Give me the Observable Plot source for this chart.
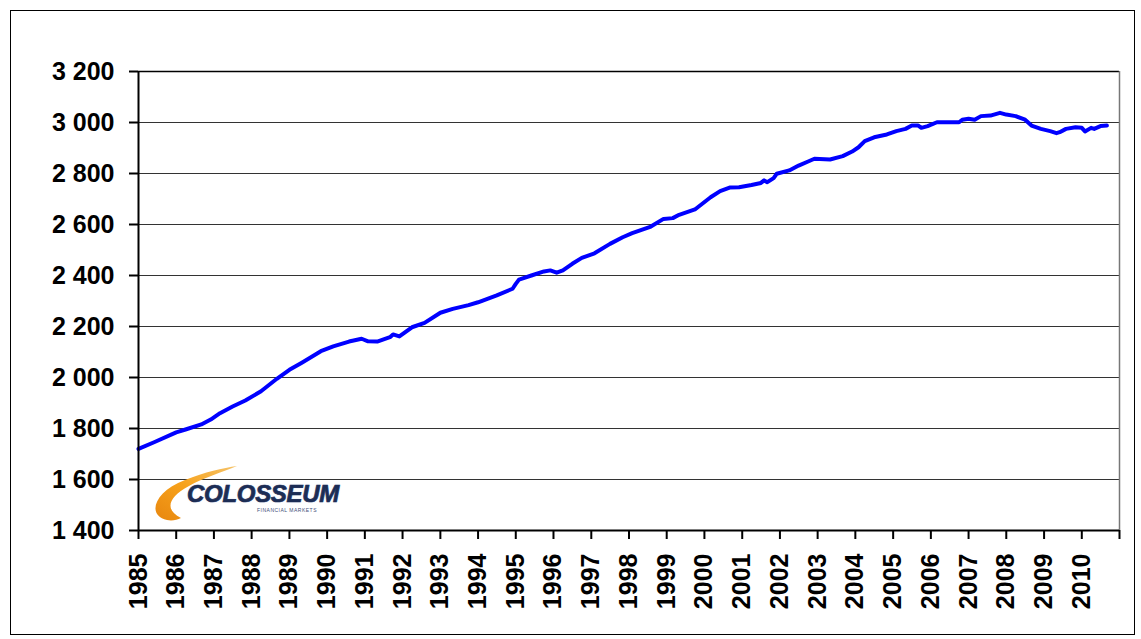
<!DOCTYPE html>
<html>
<head>
<meta charset="utf-8">
<script src="https://cdn.jsdelivr.net/npm/d3@7"></script>
<script src="https://cdn.jsdelivr.net/npm/@observablehq/plot@0.6"></script>
<style>
  html, body { margin: 0; padding: 0; background: #fff; }
  #wrap { position: relative; width: 1141px; height: 639px; overflow: hidden; }
  #border { position: absolute; left: 10px; top: 10px; width: 1125px; height: 625px; border: 1px solid #000; box-sizing: border-box; pointer-events: none; }
  #logo { position: absolute; left: 145px; top: 458px; width: 210px; height: 70px; pointer-events: none; }
  #logo .name { position: absolute; left: 42px; top: 22px; font-family: "Liberation Sans", Arial, sans-serif; font-weight: bold; font-style: italic; font-size: 24px; color: #1c2d55; letter-spacing: -0.3px; -webkit-text-stroke: 0.7px #1c2d55; text-shadow: 0 0 2px #c9d2e6; }
  #logo .sub { position: absolute; left: 112px; top: 49px; font-family: "Liberation Sans", Arial, sans-serif; font-size: 5px; color: #44507a; letter-spacing: 0.5px; }
  #chart svg { display: block; }
</style>
</head>
<body>
<div id="wrap">
  <div id="chart"></div>
  <div id="logo">
    <svg width="210" height="70" style="position:absolute;left:0;top:0">
      <defs>
        <linearGradient id="sw" x1="0" y1="1" x2="1" y2="0">
          <stop offset="0" stop-color="#e8870f"/>
          <stop offset="0.5" stop-color="#f7a21b"/>
          <stop offset="1" stop-color="#f5c36a"/>
        </linearGradient>
      </defs>
      <path d="M22,62 C2,58 8,34 40,22 C60,14 78,10 92,8 C78,14 58,20 44,28 C22,40 20,52 36,60 C32,62 27,63 22,62 Z" fill="url(#sw)"/>
    </svg>
    <div class="name">COLOSSEUM</div>
    <div class="sub">FINANCIAL MARKETS</div>
  </div>
  <div id="border"></div>
</div>
<script>
const dates = [
  "1985-01","1985-06","1986-01","1986-04","1986-09","1986-12","1987-03","1987-07","1987-11",
  "1988-04","1988-09","1989-01","1989-05","1989-11","1990-03","1990-08","1990-12","1991-02",
  "1991-05","1991-09","1991-10","1991-12","1992-04","1992-08","1993-01","1993-05","1993-10",
  "1994-01","1994-07","1994-12","1995-01","1995-02","1995-06","1995-10","1995-12","1996-02",
  "1996-04","1996-07","1996-10","1997-02","1997-07","1997-11","1998-02","1998-08","1998-12",
  "1999-03","1999-05","1999-10","2000-03","2000-06","2000-09","2000-12","2001-04","2001-07",
  "2001-08","2001-09","2001-11","2001-12","2002-04","2002-07","2002-10","2002-12","2003-05",
  "2003-09","2003-12","2004-02","2004-04","2004-07","2004-11","2005-02","2005-05","2005-07",
  "2005-09","2005-10","2005-12","2006-03","2006-10","2006-11","2007-01","2007-03","2007-05",
  "2007-08","2007-11","2008-01","2008-04","2008-07","2008-09","2008-12","2009-03","2009-05",
  "2009-06","2009-08","2009-11","2010-01","2010-02","2010-04","2010-05","2010-07","2010-09"
];
const values = [
  1720,1746,1785,1796,1816,1835,1860,1886,1910,
  1946,1995,2030,2058,2103,2122,2141,2152,2142,
  2141,2158,2169,2161,2197,2214,2254,2269,2284,
  2295,2322,2348,2367,2384,2400,2416,2420,2411,
  2420,2446,2469,2487,2524,2550,2566,2592,2622,
  2625,2638,2659,2707,2731,2745,2746,2755,2763,
  2773,2766,2782,2799,2812,2831,2847,2858,2855,
  2868,2886,2903,2927,2942,2953,2966,2975,2988,
  2988,2979,2986,3001,3001,3011,3015,3011,3025,
  3027,3038,3031,3025,3011,2988,2975,2966,2958,
  2962,2975,2981,2979,2965,2979,2975,2986,2988
];
const yTicks = [1400,1600,1800,2000,2200,2400,2600,2800,3000,3200];
const yearTicks = d3.range(1985, 2012);

const parse = d3.utcParse("%Y-%m");
const data = dates.map((d, i) => ({date: parse(d), value: values[i]}));
const tickDates = yearTicks.map(y => new Date(Date.UTC(y, 0, 1)));
const xMin = tickDates[0], xMax = tickDates[tickDates.length - 1];
const fmt = d => d3.format(",")(d).replace(/,/g, "\u00a0");

const chart = Plot.plot({
  width: 1141,
  height: 639,
  marginLeft: 138,
  marginRight: 22,
  marginTop: 71,
  marginBottom: 109,
  style: {fontFamily: "'Liberation Sans', Arial, sans-serif", fontSize: "25px", fontWeight: "bold", color: "#000", background: "transparent", overflow: "visible"},
  x: {type: "utc", domain: [xMin, xMax]},
  y: {domain: [1400, 3200]},
  marks: [
    Plot.ruleY(yTicks.filter(t => t > 1400 && t < 3200), {stroke: "#333", strokeWidth: 1}),
    Plot.ruleY([3200], {stroke: "#000", strokeWidth: 1.5}),
    Plot.ruleX([xMax], {stroke: "#777", strokeWidth: 1.5}),
    Plot.line(data, {x: "date", y: "value", stroke: "#0000ff", strokeWidth: 4}),
    Plot.axisY({ticks: yTicks, tickSize: 9, tickPadding: 15, tickFormat: fmt, stroke: "#000", strokeWidth: 2, label: null}),
    Plot.axisX({ticks: tickDates, tickSize: 9, tickPadding: 14, tickRotate: -90, strokeWidth: 2,
      tickFormat: d => d.getUTCFullYear() === 2011 ? "" : String(d.getUTCFullYear()), label: null}),
    Plot.ruleX([xMin], {stroke: "#000", strokeWidth: 2}),
    Plot.ruleY([1400], {stroke: "#000", strokeWidth: 2})
  ]
});
document.getElementById("chart").appendChild(chart);
</script>
</body>
</html>
